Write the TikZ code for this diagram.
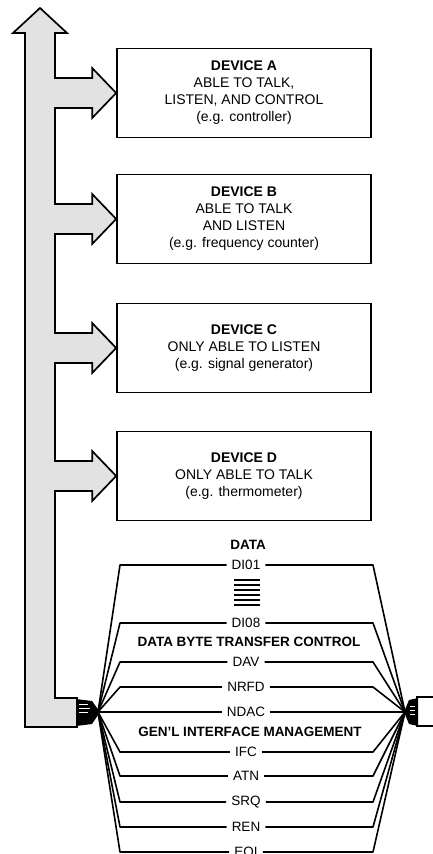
\documentclass[tikz,border=0pt]{standalone}
\usepackage{fontspec}
\setmainfont{Liberation Sans}
\usetikzlibrary{calc}
\definecolor{busgray}{HTML}{E2E2E2}

\begin{document}
\begin{tikzpicture}[x=1pt,y=-1pt,font=\fontsize{13.5}{16.5}\selectfont]

\tikzset{
devbox/.style={
    draw=black,
    line width=1.7pt,
    minimum width=254pt,
    minimum height=89pt,
    align=center,
    inner sep=0pt,
    font=\fontsize{14}{17}\selectfont
},
bus/.style={draw=black,line width=1.7pt,fill=busgray,line join=miter},
sig/.style={draw=black,line width=1.6pt,line join=round},
siglabel/.style={inner xsep=5pt,inner ysep=1pt},
grouplabel/.style={font=\fontsize{13.5}{16}\selectfont\bfseries}
}

\useasboundingbox (0,0) rectangle (432,854);

% devices on the bus
\node[devbox] (devA) at (244,93) {\textbf{DEVICE A}\\ABLE TO TALK,\\LISTEN, AND CONTROL\\(e.g. controller)};
\node[devbox] (devB) at (244,219) {\textbf{DEVICE B}\\ABLE TO TALK\\AND LISTEN\\(e.g. frequency counter)};
\node[devbox] (devC) at (244,348) {\textbf{DEVICE C}\\ONLY ABLE TO LISTEN\\(e.g. signal generator)};
\node[devbox] (devD) at (244,476) {\textbf{DEVICE D}\\ONLY ABLE TO TALK\\(e.g. thermometer)};

\coordinate (busR) at (55,0);

\draw[bus] (25,727) -- (25,33) -- (13,33) -- (40,8) -- (67,33) -- (55,33)
  \foreach \d in {devA,devB,devC,devD}{
    -- ($(busR |- \d.west)+(0,-15)$) -- ($(\d.west)+(-24,-15)$)
    -- ($(\d.west)+(-24,-25)$) -- (\d.west) -- ($(\d.west)+(-24,25)$)
    -- ($(\d.west)+(-24,15)$) -- ($(busR |- \d.west)+(0,15)$)
  }
  -- (55,698) -- (77,698) -- (77,727) -- cycle;

% cable ends
\fill[black] (76,699) -- (92,701) -- (100,712) -- (92,724) -- (76,726) -- cycle;
\draw[white,line width=0.8pt] (79,704) -- (88,704) (79,708) -- (90,708) (79,712) -- (88,712);
\fill[black] (404,712) -- (409,700) -- (418,698) -- (418,726) -- (409,724) -- cycle;
\draw[white,line width=0.7pt] (410,706) -- (415,706) (410,710) -- (415,710) (410,714) -- (415,714);
\draw[line width=1.7pt] (440,697) -- (417,697) -- (417,726) -- (440,726);

\coordinate (fanL) at (98,712);
\coordinate (fanR) at (405,712);
\coordinate (cornerL) at (120,0);
\coordinate (cornerR) at (373,0);

% group titles
\node[grouplabel] (data) at (248,545) {DATA};
\node[grouplabel] (dbtc) at (249,642) {DATA BYTE TRANSFER CONTROL};
\node[grouplabel] (gim) at (250,732) {GEN’L INTERFACE MANAGEMENT};

% signal lines
\node[siglabel] (dio1) at (246,565) {DI01};
\node[siglabel] (dio8) at (246,623) {DI08};
\node[siglabel] (dav) at (246,662) {DAV};
\node[siglabel] (nrfd) at (246,687) {NRFD};
\node[siglabel] (ndac) at (246,712) {NDAC};
\node[siglabel] (ifc) at (246,752) {IFC};
\node[siglabel] (atn) at (246,776) {ATN};
\node[siglabel] (srq) at (246,802) {SRQ};
\node[siglabel] (ren) at (246,827) {REN};
\node[siglabel] (eoi) at (246,852) {EOI};

\foreach \s in {dio1,dio8,dav,nrfd,ndac,ifc,atn,srq,ren,eoi}{
  \draw[sig] (fanL) -- (cornerL |- \s) -- (\s.west);
  \draw[sig] (\s.east) -- (cornerR |- \s) -- (fanR);
}

% DI02 ... DI07
\foreach \y in {580,585,590,595,600,605}
  \draw[line width=1.6pt] (234,\y) -- (260,\y);

\end{tikzpicture}
\end{document}
